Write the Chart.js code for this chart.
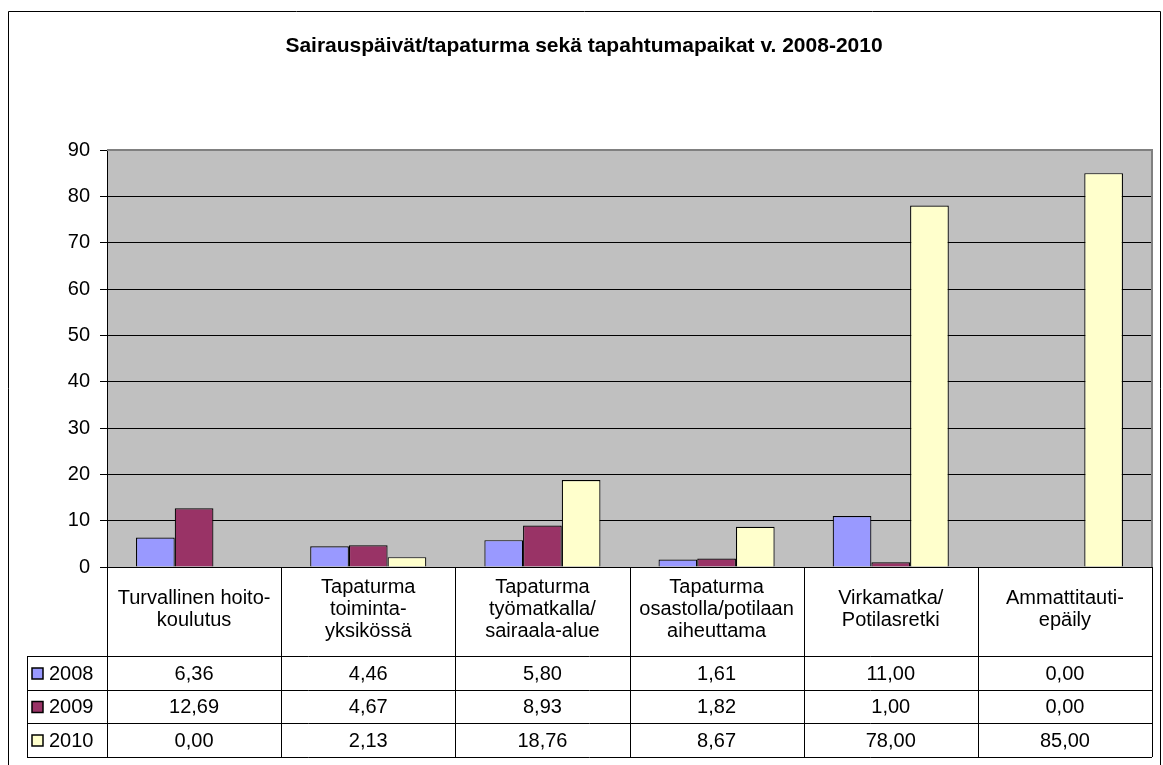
<!DOCTYPE html>
<html>
<head>
<meta charset="utf-8">
<script src="https://cdn.jsdelivr.net/npm/chart.js@4"></script>
<style>
  body { margin: 0; background: #fff; }
  canvas { display: block; }
</style>
</head>
<body>
<canvas id="chart" width="1163" height="765"></canvas>
<script>
// Chart data
const chartTitle = 'Sairauspäivät/tapaturma sekä tapahtumapaikat v. 2008-2010';
const categories = [
    ['Turvallinen hoito-', 'koulutus'],
    ['Tapaturma', 'toiminta-', 'yksikössä'],
    ['Tapaturma', 'työmatkalla/', 'sairaala-alue'],
    ['Tapaturma', 'osastolla/potilaan', 'aiheuttama'],
    ['Virkamatka/', 'Potilasretki'],
    ['Ammattitauti-', 'epäily']
];
const seriesNames = ['2008', '2009', '2010'];
const values2008 = [6.36, 4.46, 5.80, 1.61, 11.00, 0.00];
const values2009 = [12.69, 4.67, 8.93, 1.82, 1.00, 0.00];
const values2010 = [0.00, 2.13, 18.76, 8.67, 78.00, 85.00];
const seriesColors = ['#9999FF', '#993366', '#FFFFCC'];
const yMin = 0, yMax = 90, yStep = 10;

const FONT = '"Liberation Sans", Arial, sans-serif';
Chart.defaults.font.family = FONT;
Chart.defaults.color = '#000';

// Formats 6.36 -> "6,36"
function fmt(v) {
    return v.toFixed(2).replace('.', ',');
}

// Grey plot area, title, outer frame and the data table under the bars
const excelStyle = {
    id: 'excelStyle',
    beforeDraw(chart) {
        const { ctx, chartArea: a } = chart;
        ctx.save();
        ctx.fillStyle = '#C0C0C0';
        ctx.fillRect(a.left, a.top, a.right - a.left, a.bottom - a.top);
        ctx.restore();
    },
    afterDraw(chart) {
        const { ctx, chartArea: a } = chart;
        const xs = chart.scales.x;
        ctx.save();

        // outer frame
        ctx.strokeStyle = '#000';
        ctx.lineWidth = 1;
        ctx.beginPath();
        ctx.moveTo(8.5, 800);
        ctx.lineTo(8.5, 11.5);
        ctx.lineTo(1160.5, 11.5);
        ctx.lineTo(1160.5, 800);
        ctx.stroke();

        // title
        ctx.font = 'bold 21px ' + FONT;
        ctx.fillStyle = '#000';
        ctx.textAlign = 'center';
        ctx.textBaseline = 'middle';
        ctx.fillText(chartTitle, 584, 46);

        // plot border (top and right)
        ctx.strokeStyle = '#808080';
        ctx.lineWidth = 2;
        ctx.beginPath();
        ctx.moveTo(a.left, a.top);
        ctx.lineTo(a.right, a.top);
        ctx.lineTo(a.right, a.bottom);
        ctx.stroke();

        // data table
        const colW = (a.right - a.left) / categories.length;
        const headTop = a.bottom;
        const rowTops = [656, 690, 723, 757];
        const keyLeft = 27;

        ctx.strokeStyle = '#000';
        ctx.lineWidth = 1;
        ctx.beginPath();
        rowTops.forEach(y => {
            ctx.moveTo(keyLeft, y + 0.5);
            ctx.lineTo(a.right, y + 0.5);
        });
        ctx.moveTo(keyLeft + 0.5, rowTops[0]);
        ctx.lineTo(keyLeft + 0.5, rowTops[3]);
        for (let i = 0; i <= categories.length; i++) {
            const x = Math.round(a.left + i * colW) + 0.5;
            ctx.moveTo(x, headTop);
            ctx.lineTo(x, rowTops[3]);
        }
        ctx.stroke();

        ctx.font = '20px ' + FONT;
        ctx.textAlign = 'center';
        ctx.textBaseline = 'middle';
        const headMid = 609, lineH = 22;
        categories.forEach((lines, i) => {
            const cx = xs.getPixelForValue(i);
            const y0 = headMid - (lines.length - 1) * lineH / 2;
            lines.forEach((t, j) => ctx.fillText(t, cx, y0 + j * lineH));
        });

        chart.data.datasets.forEach((ds, r) => {
            const cy = (rowTops[r] + rowTops[r + 1]) / 2 + 1;
            ds.data.forEach((v, i) => {
                ctx.textAlign = 'center';
                ctx.fillText(fmt(v), xs.getPixelForValue(i), cy);
            });
            // legend key
            ctx.fillStyle = ds.backgroundColor;
            ctx.fillRect(32, cy - 6, 11, 11);
            ctx.lineWidth = 1.5;
            ctx.strokeRect(32, cy - 6, 11, 11);
            ctx.fillStyle = '#000';
            ctx.textAlign = 'left';
            ctx.fillText(ds.label, 49, cy);
        });

        ctx.restore();
    }
};

const ctx = document.getElementById('chart').getContext('2d');
new Chart(ctx, {
    type: 'bar',
    data: {
        labels: categories,
        datasets: [
            { label: seriesNames[0], data: values2008, backgroundColor: seriesColors[0] },
            { label: seriesNames[1], data: values2009, backgroundColor: seriesColors[1] },
            { label: seriesNames[2], data: values2010, backgroundColor: seriesColors[2] }
        ].map(d => Object.assign(d, {
            borderColor: '#000',
            borderWidth: 1.2,
            categoryPercentage: 3 / 4.5,
            barPercentage: 1
        }))
    },
    options: {
        responsive: false,
        animation: false,
        events: [],
        layout: { padding: { top: 150, right: 11, bottom: 198, left: 0 } },
        plugins: {
            legend: { display: false },
            title: { display: false },
            tooltip: { enabled: false }
        },
        scales: {
            x: { display: false },
            y: {
                min: yMin,
                max: yMax,
                afterFit(scale) { scale.width = 107; },
                ticks: {
                    stepSize: yStep,
                    padding: 10,
                    font: { size: 20 },
                    color: '#000'
                },
                grid: {
                    color: '#000',
                    lineWidth: 1,
                    tickLength: 7
                },
                border: { color: '#000', width: 1 }
            }
        }
    },
    plugins: [excelStyle]
});
</script>
</body>
</html>
